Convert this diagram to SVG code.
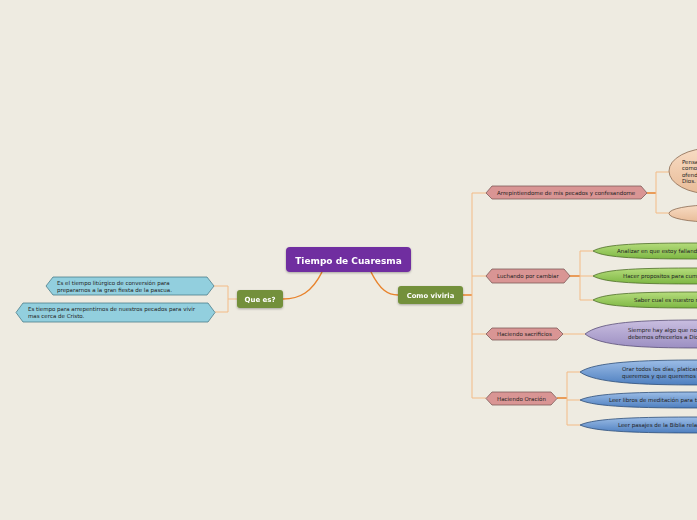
<svg xmlns="http://www.w3.org/2000/svg" width="697" height="520" viewBox="0 0 697 520">
<defs>
<linearGradient id="gGreen" x1="0" y1="0" x2="0" y2="1"><stop offset="0" stop-color="#B5DC7C"/><stop offset="1" stop-color="#7DB743"/></linearGradient>
<linearGradient id="gBlue" x1="0" y1="0" x2="0" y2="1"><stop offset="0" stop-color="#9CBDE6"/><stop offset="1" stop-color="#4E7FC0"/></linearGradient>
<linearGradient id="gPurple" x1="0" y1="0" x2="0" y2="1"><stop offset="0" stop-color="#C9BEE0"/><stop offset="1" stop-color="#9C8FC2"/></linearGradient>
<linearGradient id="gPeach" x1="0" y1="0" x2="0" y2="1"><stop offset="0" stop-color="#F8DCC4"/><stop offset="1" stop-color="#E8BC98"/></linearGradient>
<filter id="sh" x="-10%" y="-20%" width="120%" height="150%"><feDropShadow dx="0" dy="1" stdDeviation="0.8" flood-color="#000" flood-opacity="0.3"/></filter>
</defs>
<style>
.main{fill:#7DB743}
.t{font-family:"DejaVu Sans",Verdana,sans-serif;fill:#222;font-size:5.5px}
.tw{font-family:"DejaVu Sans",Verdana,sans-serif;fill:#fff;font-weight:bold;text-anchor:middle}
.hex{fill:#D99594;stroke:#7d5a58;stroke-width:0.8}
.lb{fill:#92CFDE;stroke:#4d7d8a;stroke-width:0.8}
.c1{fill:none;stroke:#E8832C;stroke-width:1.5}
.c2{fill:none;stroke:#F3BB86;stroke-width:1}
.lg{fill:url(#gGreen);stroke:#4f6f2a;stroke-width:0.8}
.lbl{fill:url(#gBlue);stroke:#2f4f7a;stroke-width:0.8}
.lp{fill:url(#gPurple);stroke:#5a4f78;stroke-width:0.8}
.pe{fill:url(#gPeach);stroke:#8a6a50;stroke-width:0.8}
</style>
<rect width="697" height="520" fill="#EEEBE1"/>

<g id="connectors">
<path class="c1" d="M322 272 C312 292 300 299 283 299"/>
<path class="c1" d="M371 272 C380 290 388 295 398 295"/>
<path class="c2" d="M237 299 H228 M228 286 V312 M228 286 H214 M228 312 H215"/>
<path class="c1" d="M463 295 H472"/>
<path class="c2" d="M472 193 V398 M472 193 H486 M472 276 H486 M472 334 H486 M472 398 H486"/>
<path class="c1" d="M647 193 H656 M570 276 H580 M557 398 H567"/>
<path class="c2" d="M656 172 V213 M656 172 H669 M656 213 H669"/>
<path class="c2" d="M580 251 V300 M580 251 H593 M580 276 H593 M580 300 H593"/>
<path class="c2" d="M563 334 H585"/>
<path class="c2" d="M567 372 V425 M567 372 H580 M567 400 H580 M567 425 H580"/>
</g>

<g id="root" filter="url(#sh)">
<rect x="286" y="247" width="125" height="25" rx="4" fill="#6F2DA0"/>
<text class="tw" x="348.5" y="263.5" font-size="9">Tiempo de Cuaresma</text>
</g>

<g id="que-es" filter="url(#sh)">
<rect x="237" y="290" width="46" height="18" rx="3" fill="#73903B"/>
<text class="tw" x="260" y="301.5" font-size="7">Que es?</text>
</g>

<g id="como-viviria" filter="url(#sh)">
<rect x="398" y="286" width="65" height="18" rx="3" fill="#73903B"/>
<text class="tw" x="430.5" y="297.5" font-size="6.8">Como viviria</text>
</g>

<g id="que-es-1">
<path class="lb" d="M46 286 L53 277 H207 L214 286 L207 295 H53 Z"/>
<text class="t" x="57" y="285">Es el tiempo litúrgico de conversión para</text>
<text class="t" x="57" y="291.5">prepararnos a la gran fiesta de la pascua.</text>
</g>
<g id="que-es-2">
<path class="lb" d="M16 312.5 L23 303 H208 L215 312.5 L208 322 H23 Z"/>
<text class="t" x="28" y="311">Es tiempo para arrepentirnos de nuestros pecados para vivir</text>
<text class="t" x="28" y="317.5">mas cerca de Cristo.</text>
</g>

<g id="arrepintiendome">
<path class="hex" d="M486 193 L492 186 H641 L647 193 L641 199 H492 Z"/>
<text class="t" x="497" y="195">Arrepintiendome de mis pecados y confesandome</text>
</g>
<g id="arr-1">
<ellipse class="pe" cx="712" cy="171" rx="43" ry="23"/>
<text class="t" x="682" y="163.5">Pensando en</text>
<text class="t" x="682" y="170">como he</text>
<text class="t" x="682" y="176.5">ofendido a</text>
<text class="t" x="682" y="183">Dios.</text>
</g>
<g id="arr-2">
<ellipse class="pe" cx="712" cy="213.5" rx="43" ry="8.5"/>
</g>

<g id="luchando">
<path class="hex" d="M486 276 L492 269 H564 L570 276 L564 283 H492 Z"/>
<text class="t" x="497" y="278">Luchando por cambiar</text>
</g>
<g id="luch-1">
<path class="lg" d="M593 251 C605 244 640 243 700 243 L900 243 V259 L700 259 C640 259 605 258 593 251 Z"/>
<text class="t" x="617" y="253">Analizar en que estoy fallando</text>
</g>
<g id="luch-2">
<path class="lg" d="M593 276 C605 269 640 268 700 268 L900 268 V284 L700 284 C640 284 605 283 593 276 Z"/>
<text class="t" x="623" y="278">Hacer propositos para cumplirlos</text>
</g>
<g id="luch-3">
<path class="lg" d="M593 300 C605 293 640 292 700 292 L900 292 V308 L700 308 C640 308 605 307 593 300 Z"/>
<text class="t" x="634" y="302">Saber cual es nuestro mayor defecto</text>
</g>

<g id="sacrificios">
<path class="hex" d="M486 334 L492 328 H557 L563 334 L557 340 H492 Z"/>
<text class="t" x="497" y="336">Haciendo sacrificios</text>
</g>
<g id="sacr-1">
<path class="lp" d="M585 334 C600 322 640 320 700 320 L900 320 V348 L700 348 C640 348 600 346 585 334 Z"/>
<text class="t" x="628" y="332">Siempre hay algo que no nos gusta y</text>
<text class="t" x="628" y="339">debemos ofrecerlos a Dios.</text>
</g>

<g id="oracion">
<path class="hex" d="M486 398.5 L492 392 H551 L557 398.5 L551 405 H492 Z"/>
<text class="t" x="497" y="400.5">Haciendo Oración</text>
</g>
<g id="orac-1">
<path class="lbl" d="M580 372 C595 362 640 360 700 360 L900 360 V385 L700 385 C640 385 595 383 580 372 Z"/>
<text class="t" x="622" y="370.5">Orar todos los días, platicarle a Dios lo que</text>
<text class="t" x="622" y="377.5">queremos y que queremos mejorar.</text>
</g>
<g id="orac-2">
<path class="lbl" d="M580 400 C595 393 640 392 700 392 L900 392 V408 L700 408 C640 408 595 407 580 400 Z"/>
<text class="t" x="609" y="402">Leer libros de meditación para tiempo de cuaresma</text>
</g>
<g id="orac-3">
<path class="lbl" d="M580 425 C595 418 640 417 700 417 L900 417 V433 L700 433 C640 433 595 432 580 425 Z"/>
<text class="t" x="618" y="427">Leer pasajes de la Biblia relacionados</text>
</g>
</svg>
